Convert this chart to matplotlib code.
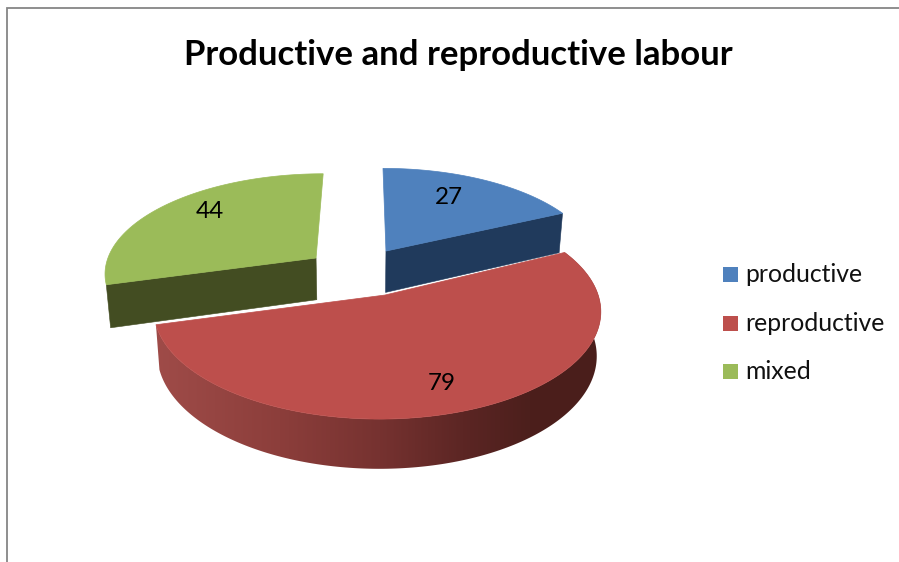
import numpy as np
import matplotlib
matplotlib.use("Agg")
import matplotlib.pyplot as plt
from matplotlib.patches import Polygon, Rectangle
from matplotlib.colors import to_rgb

categories = ["productive", "reproductive", "mixed"]
values = [27, 79, 44]
title = "Productive and reproductive labour"
top_colors = ["#4f81bd", "#bd4f4c", "#9bbb59"]
face_colors = ["#203a5c", None, "#434d22"]

fig = plt.figure(figsize=(8.99, 5.62), dpi=100, facecolor="white")
ax = fig.add_axes([0, 0, 1, 1])
ax.axis("off")
FONT = "Lato"

# perspective plane of the pie
CX, CY, A, B, K = 361.0, 274.4, 215.0, 100.3, 0.14


def project(u, v):
    w = 1 + K * v
    return CX + u / w, CY - B * v / w


def drop(x, y):
    return CX + (x - CX) * 0.983, y + 42.5 + 0.05 * (y - 274.0)


# rim offset, apex offset (horizontal, plane units) and plane offset per wedge
rim_u = [25.8, 15.5, -44.0]
apex_u = [25.8, 23.3, -46.0]
off_v = [0.2407, -0.20, 0.1673]

total = sum(values)
edges = np.cumsum([0] + values) / total * 2 * np.pi

red_side = [(150, "#a04c49"), (280, "#8c3e3b"), (380, "#763230"),
            (470, "#5a2523"), (530, "#4c1f1c"), (610, "#4a1e1b")]

# mixed first, then productive, reproductive on top
for i in [2, 0, 1]:
    th = np.linspace(edges[i], edges[i + 1], 200)
    rx, ry = project(rim_u[i] + A * np.sin(th), off_v[i] + np.cos(th))
    ax_, ay_ = project(apex_u[i], off_v[i])
    bx, by = drop(rx, ry)
    bax, bay = drop(ax_, ay_)
    if i == 1:
        # shaded outer wall of the big slice: a horizontal gradient clipped to the wall
        wall = Polygon(list(zip(rx, ry)) + list(zip(bx[::-1], by[::-1])), closed=True,
                       facecolor="none", edgecolor="none", transform=ax.transData)
        ax.add_patch(wall)
        xs = np.linspace(150, 610, 460)
        cols = np.array([to_rgb(s[1]) for s in red_side])
        stops = [s[0] for s in red_side]
        grad = np.stack([np.interp(xs, stops, cols[:, c]) for c in range(3)], axis=-1)[None, :, :]
        im = ax.imshow(grad, extent=(150, 610, 500, 240), aspect="auto", zorder=2 + i,
                       interpolation="bilinear")
        im.set_clip_path(wall)
    else:
        k = 0 if i == 2 else -1  # visible cut face corner
        cut = [(ax_, ay_), (rx[k], ry[k]), (bx[k], by[k]), (bax, bay)]
        ax.add_patch(Polygon(cut, closed=True, facecolor=face_colors[i],
                             edgecolor=face_colors[i], lw=0.4, zorder=2 + i))
    pts = [(ax_, ay_)] + list(zip(rx, ry))
    ax.add_patch(Polygon(pts, closed=True, facecolor=top_colors[i],
                         edgecolor=top_colors[i], lw=0.5, zorder=2.5 + i))

# data labels
label_pos = [(449, 204), (442, 390), (210, 218)]
for v, (x, y) in zip(values, label_pos):
    ax.text(x, y, str(v), fontsize=17.5, family=FONT, color="black",
            ha="center", va="baseline", zorder=10)

# title
ax.text(458.5, 65, title, fontsize=25, family=FONT, weight="bold", color="black",
        ha="center", va="baseline", zorder=10)

# legend
for name, c, y, base in zip(categories, top_colors, [274.5, 323.5, 371.5], [282, 331, 379]):
    ax.add_patch(Rectangle((723, y - 7.5), 15, 15, facecolor=c, edgecolor="none", zorder=10))
    ax.text(745, base, name, fontsize=17.8, family=FONT, color="#111111",
            ha="left", va="baseline", zorder=10)

# chart frame
ax.plot([7, 7, 899], [562, 8, 8], color="#868686", lw=1.3, solid_joinstyle="miter", zorder=1)

ax.set_xlim(0, 899)
ax.set_ylim(562, 0)
fig.savefig("out.png", dpi=100, facecolor="white")
